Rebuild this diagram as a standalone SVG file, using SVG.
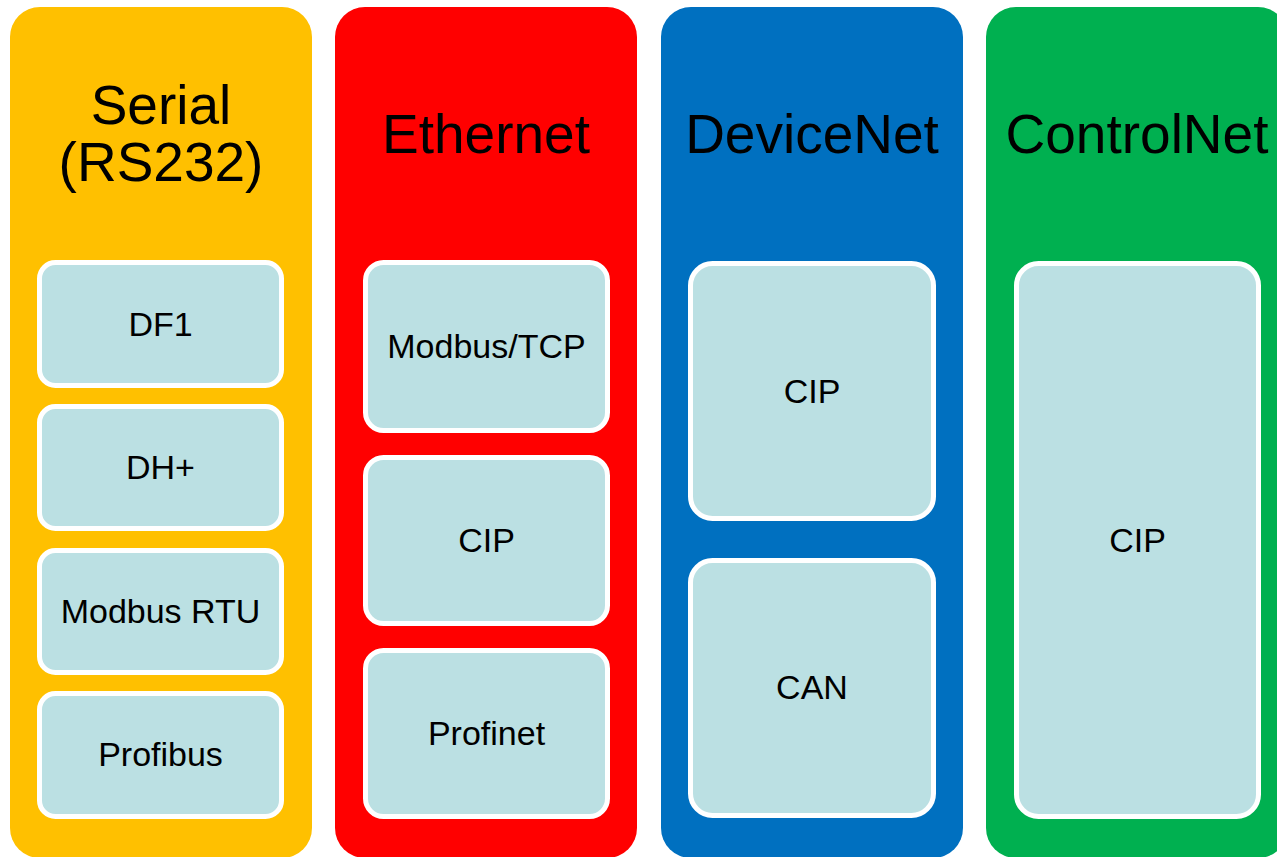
<svg xmlns="http://www.w3.org/2000/svg" width="1277" height="857" viewBox="0 0 1277 857">
<style>
.col{stroke:none}
.box{fill:#BBE0E3;stroke:#FFFFFF;stroke-width:5}
.t{font-family:"Liberation Sans",Arial,sans-serif;font-size:34px;fill:#000;text-anchor:middle}
.h{font-family:"Liberation Sans",Arial,sans-serif;font-size:55px;fill:#000;text-anchor:middle}
</style>
<rect width="1277" height="857" fill="#FFFFFF"/>
<g id="serial">
<rect class="col" x="10" y="7" width="302" height="851" rx="30" fill="#FFC000"/>
<text class="h" x="161" y="124">Serial</text>
<text class="h" x="161" y="181">(RS232)</text>
</g>
<g id="ethernet">
<rect class="col" x="335" y="7" width="302" height="851" rx="30" fill="#FF0000"/>
<text class="h" x="486" y="153">Ethernet</text>
</g>
<g id="devicenet">
<rect class="col" x="661" y="7" width="302" height="851" rx="30" fill="#0070C0"/>
<text class="h" x="812" y="153">DeviceNet</text>
</g>
<g id="controlnet">
<rect class="col" x="986" y="7" width="302" height="851" rx="30" fill="#00B050"/>
<text class="h" x="1137" y="153">ControlNet</text>
</g>
<g id="df1"><rect class="box" x="39.5" y="262.5" width="242" height="123" rx="16"/><text class="t" x="160.5" y="336">DF1</text></g>
<g id="dhplus"><rect class="box" x="39.5" y="406.5" width="242" height="122" rx="16"/><text class="t" x="160.5" y="479">DH+</text></g>
<g id="modbusrtu"><rect class="box" x="39.5" y="550.5" width="242" height="122" rx="16"/><text class="t" x="160.5" y="623">Modbus RTU</text></g>
<g id="profibus"><rect class="box" x="39.5" y="693.5" width="242" height="123" rx="16"/><text class="t" x="160.5" y="766">Profibus</text></g>
<g id="modbustcp"><rect class="box" x="365.5" y="262.5" width="242" height="168" rx="18"/><text class="t" x="486.5" y="358">Modbus/TCP</text></g>
<g id="cip-eth"><rect class="box" x="365.5" y="457.5" width="242" height="166" rx="18"/><text class="t" x="486.5" y="552">CIP</text></g>
<g id="profinet"><rect class="box" x="365.5" y="650.5" width="242" height="166" rx="18"/><text class="t" x="486.5" y="745">Profinet</text></g>
<g id="cip-dev"><rect class="box" x="690.5" y="263.5" width="243" height="255" rx="22"/><text class="t" x="812" y="403">CIP</text></g>
<g id="can"><rect class="box" x="690.5" y="560.5" width="243" height="255" rx="22"/><text class="t" x="812" y="699">CAN</text></g>
<g id="cip-ctrl"><rect class="box" x="1016.5" y="263.5" width="242" height="553" rx="22"/><text class="t" x="1137.5" y="552">CIP</text></g>
<g id="connectors"></g>
</svg>
